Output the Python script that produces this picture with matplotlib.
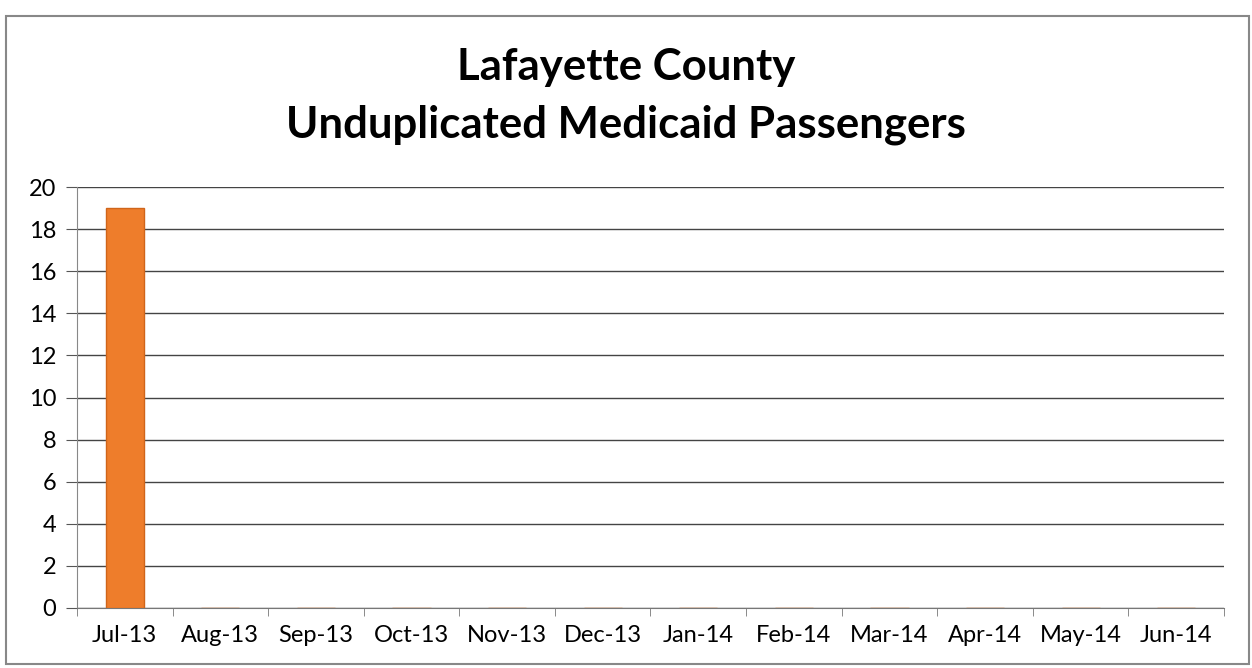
import matplotlib
matplotlib.use("Agg")
import matplotlib.pyplot as plt
from matplotlib.patches import Rectangle

months = ["Jul-13", "Aug-13", "Sep-13", "Oct-13", "Nov-13", "Dec-13",
          "Jan-14", "Feb-14", "Mar-14", "Apr-14", "May-14", "Jun-14"]
passengers = [19, 0, 0, 0, 0, 0, 0, 0, 0, 0, 0, 0]
yticks = list(range(0, 21, 2))

plt.rcParams["font.family"] = ["Lato", "DejaVu Sans"]

fig = plt.figure(figsize=(12.52, 6.68), dpi=100)
ax = fig.add_axes([77 / 1252, 1 - 608 / 668, (1224 - 77) / 1252, (608 - 187) / 668])

x = list(range(len(months)))
ax.bar(x, passengers, width=0.4, color="#EE7D2B", edgecolor="#D0651A", lw=1, zorder=3)

ax.set_xlim(-0.5, len(months) - 0.5)
ax.set_ylim(0, 20)
ax.set_yticks(yticks)
ax.set_xticks(x)
ax.set_xticklabels(months, fontsize=17)
ax.tick_params(axis="y", labelsize=17, length=8, color="#555555", pad=7)
ax.set_xticks([i - 0.5 for i in range(len(months) + 1)], minor=True)
ax.tick_params(axis="x", which="major", length=0, pad=12)
ax.tick_params(axis="x", which="minor", length=6, color="#777777")
ax.grid(axis="y", color="#444444", lw=1, zorder=0)

for s in ["top", "right"]:
    ax.spines[s].set_visible(False)
ax.spines["left"].set_color("#888888")
ax.spines["bottom"].set_color("#777777")

fig.text(0.5, 1 - 67 / 668, "Lafayette County", ha="center", va="center",
         fontsize=31.5, fontweight="bold")
fig.text(0.5, 1 - 125 / 668, "Unduplicated Medicaid Passengers", ha="center",
         va="center", fontsize=31.5, fontweight="bold")

fig.patches.append(Rectangle((6 / 1252, 1 - 664 / 668), (1249 - 6) / 1252, (664 - 16) / 668,
                             transform=fig.transFigure, fill=False,
                             edgecolor="#888888", lw=1.5))

fig.savefig("out.png", dpi=100)
